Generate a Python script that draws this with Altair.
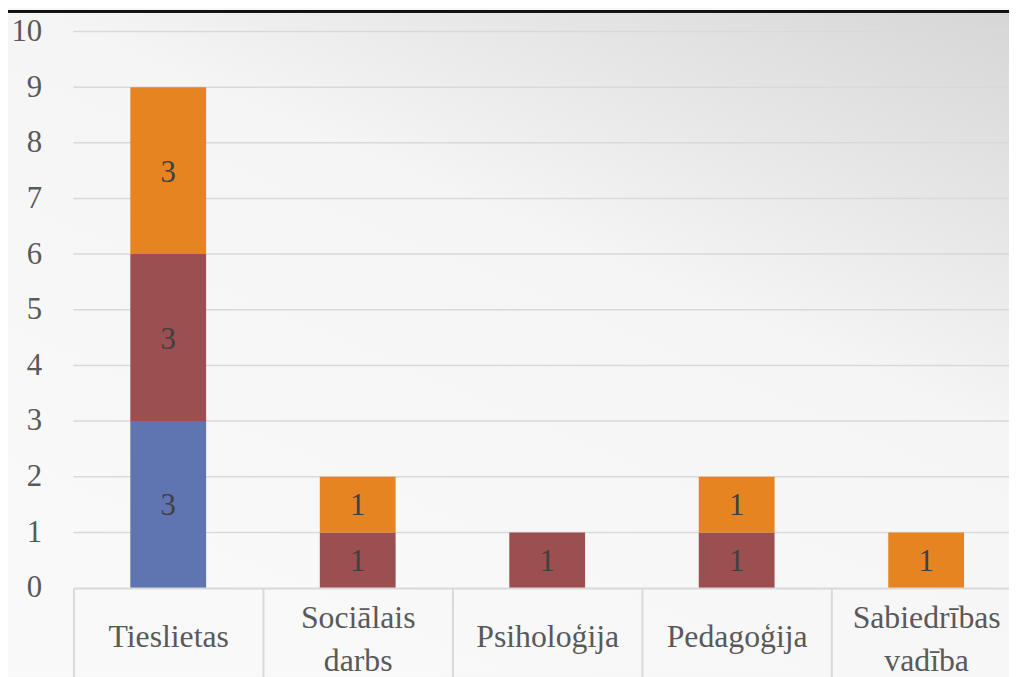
import altair as alt
import pandas as pd

categories = ["Tieslietas", "Sociālais darbs", "Psiholoģija", "Pedagoģija", "Sabiedrības vadība"]
series_names = ["Sērija 1", "Sērija 2", "Sērija 3"]
series_1 = [3, 0, 0, 0, 0]
series_2 = [3, 1, 1, 1, 0]
series_3 = [3, 1, 0, 1, 1]
series_colors = ["#5E75B2", "#9C4F51", "#E68421"]
y_ticks = list(range(0, 11))

rows = []
for si, (name, vals) in enumerate(zip(series_names, [series_1, series_2, series_3])):
    for c, v in zip(categories, vals):
        if v > 0:
            rows.append({"cat": c, "series": name, "order": si, "value": v})
df = pd.DataFrame(rows)
grid_df = pd.DataFrame({"tick": y_ticks})

FONT = "Liberation Serif"
W, H = 943, 561
PAD_L, PAD_T, PAD_B = 66, 21, 87
CELL = 191

x_enc = alt.X(
    "cat:N",
    sort=categories,
    scale=alt.Scale(range=[0, CELL * len(categories)], paddingInner=0, paddingOuter=0),
    axis=alt.Axis(
        title=None,
        labelAngle=0,
        labelFont=FONT,
        labelFontSize=32,
        labelColor="#595959",
        labelExpr="split(datum.label, ' ')",
        labelLineHeight=43,
        labelBaseline="middle",
        labelPadding={"condition": {"test": "indexof(datum.label, ' ') >= 0", "value": -65}, "value": -46},
        labelLimit=400,
        tickBand="extent",
        tickSize=95,
        tickColor="#d9d9d9",
        tickWidth=2,
        domainColor="#d9d9d9",
        domainWidth=2,
        grid=False,
        zindex=1,
    ),
)

y_scale = alt.Scale(domain=[0, 10], nice=False)

base = alt.Chart(df).transform_stack(
    stack="value", groupby=["cat"], as_=["y0", "y1"], sort=[alt.SortField("order")]
).transform_calculate(mid="(datum.y0 + datum.y1) / 2")

bars = base.mark_bar(width=alt.RelativeBandSize(0.4)).encode(
    x=x_enc,
    y=alt.Y(
        "y0:Q",
        scale=y_scale,
        axis=alt.Axis(
            title=None,
            values=y_ticks,
            format="d",
            labelFont=FONT,
            labelFontSize=31,
            labelColor="#595959",
            labelPadding=32,
            ticks=False,
            domain=False,
            grid=False,
            zindex=1,
        ),
    ),
    y2="y1:Q",
    color=alt.Color("series:N", scale=alt.Scale(domain=series_names, range=series_colors), legend=None),
)

labels = base.mark_text(font=FONT, fontSize=31, color="#404040", baseline="middle", dy=2).encode(
    x=alt.X("cat:N", sort=categories),
    y=alt.Y("mid:Q", scale=y_scale),
    text="value:Q",
)

grid = alt.Chart(grid_df).transform_filter("datum.tick > 0").mark_rule(
    color="#d9d9d9", strokeWidth=1.5
).encode(
    y=alt.Y("tick:Q", scale=y_scale),
    x=alt.value(0),
    x2=alt.value(W),
)

bg = alt.Chart(grid_df).mark_rect(
    color=alt.Gradient(
        gradient="linear",
        x1=0.35, y1=1, x2=1, y2=0,
        stops=[
            alt.GradientStop(color="#f9f9f9", offset=0),
            alt.GradientStop(color="#f5f5f5", offset=0.55),
            alt.GradientStop(color="#d6d6d6", offset=1),
        ],
    )
).encode(
    x=alt.value(-PAD_L), x2=alt.value(W), y=alt.value(-PAD_T), y2=alt.value(H + PAD_B)
)

topline = alt.Chart(grid_df).mark_rule(color="#111111", strokeWidth=2).encode(
    x=alt.value(-PAD_L), x2=alt.value(W), y=alt.value(-20.5)
)

chart = alt.layer(bg, topline, grid, bars, labels).properties(
    width=W,
    height=H,
    autosize=alt.AutoSizeParams(type="none"),
    padding={"left": PAD_L, "top": PAD_T, "right": 0, "bottom": PAD_B},
    background="#f7f7f7",
).configure_view(stroke=None)

chart.save("out.html", embed_options={"renderer": "svg", "actions": False})
